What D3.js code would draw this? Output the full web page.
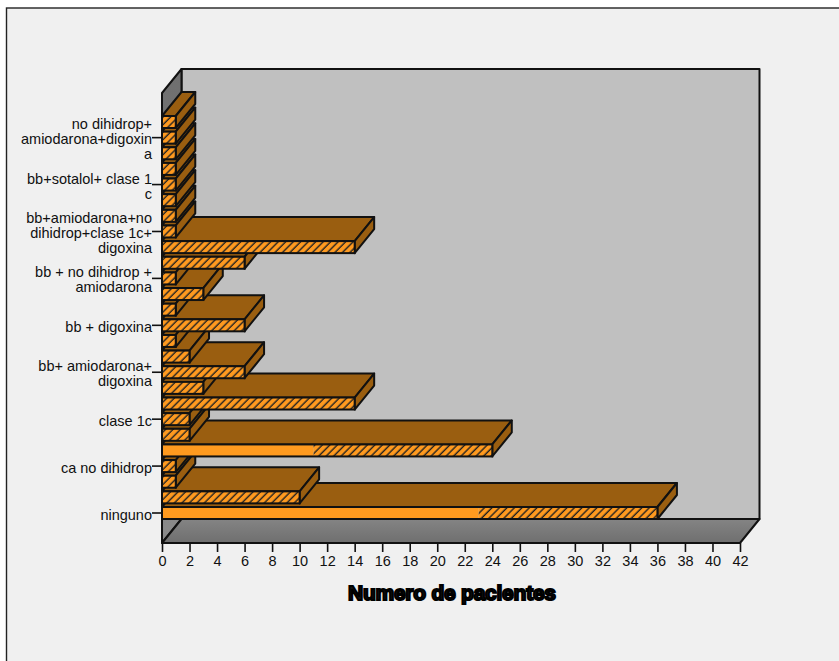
<!DOCTYPE html>
<html>
<head>
<meta charset="utf-8">
<script src="https://cdn.jsdelivr.net/npm/d3@7"></script>
<style>
html,body{margin:0;padding:0;background:#fff;overflow:hidden}
svg{display:block}
text{font-family:"Liberation Sans",Arial,sans-serif;fill:#111}
</style>
</head>
<body>
<svg id="chart" width="839" height="661"></svg>
<script>
// Categories run from the front of the chart (bottom) to the back (top).
const categoryLabels = [
  "ninguno", "", "", "ca no dihidrop", "", "", "clase 1c", "", "",
  "bb+ amiodarona+\ndigoxina", "", "", "bb + digoxina", "", "",
  "bb + no dihidrop +\namiodarona", "", "",
  "bb+amiodarona+no\ndihidrop+clase 1c+\ndigoxina", "", "",
  "bb+sotalol+ clase 1\nc", "", "",
  "no dihidrop+\namiodarona+digoxin\na", ""
];
const solidValues = [23,0,0,0,11,0,0,0,0,0,0,0,0,0,0,0,0,0,0,0,0,0,0,0,0,0];
const hatchedValues = [13,10,1,1,13,2,2,14,3,6,2,1,6,1,3,1,6,14,1,1,1,1,1,1,1,1];
const xTicks = d3.range(0, 43, 2);
const axisTitle = "Numero de pacientes";

const svg = d3.select("#chart");
const depth = {x: 19.5, y: -24};
const x = d3.scaleLinear().domain([0, 42]).range([162, 740]);
const y = d3.scaleBand().domain(d3.range(categoryLabels.length))
  .range([519, 116]).paddingInner(0.233).paddingOuter(0);
const floorY = 543, wallTop = 93;
const labelFont = '"Liberation Sans",Arial,sans-serif';

const colors = {page:"#f0f0f0", wall:"#c0c0c0", bar:"#ff9a1f", barDark:"#9a5e10", line:"#111"};

const defs = svg.append("defs");
const grad = (id, from, to, x2, y2) => {
  const g = defs.append("linearGradient").attr("id", id)
    .attr("x1", 0).attr("y1", 0).attr("x2", x2).attr("y2", y2);
  g.append("stop").attr("offset", 0).attr("stop-color", from);
  g.append("stop").attr("offset", 1).attr("stop-color", to);
};
grad("floorFill", "#848484", "#6f6f6f", 0, 1);
grad("sideFill", "#6f6f6f", "#8a8a8a", 0, 1);
const hatchStep = 5.3;
const hatch = defs.append("pattern").attr("id", "hatch")
  .attr("patternUnits", "userSpaceOnUse").attr("width", hatchStep).attr("height", hatchStep)
  .attr("patternTransform", "rotate(45)");
hatch.append("rect").attr("width", hatchStep).attr("height", hatchStep).attr("fill", colors.bar);
hatch.append("line").attr("x1", 2).attr("x2", 2).attr("y1", 0).attr("y2", hatchStep)
  .attr("stroke", "#222").attr("stroke-width", 1.4);

// Page panel with a frame along its top and left edges
svg.append("rect").attr("width", 839).attr("height", 661).attr("fill", "#fff");
svg.append("rect").attr("x", 6.5).attr("y", 8).attr("width", 840).attr("height", 670)
  .attr("fill", colors.page).attr("stroke", "#222").attr("stroke-width", 1.4);

const poly = (pts, fill, sw = 2) => svg.append("polygon")
  .attr("points", pts.map(p => p.join(",")).join(" "))
  .attr("fill", fill).attr("stroke", colors.line)
  .attr("stroke-width", sw).attr("stroke-linejoin", "round");

// Box: back wall, left wall, floor
const xMin = x(0), xMax = x(42);
const backBottom = floorY + depth.y, backTop = wallTop + depth.y;
poly([[xMin+depth.x,backTop],[xMax+depth.x,backTop],[xMax+depth.x,backBottom],[xMin+depth.x,backBottom]], colors.wall);
poly([[xMin,wallTop],[xMin+depth.x,backTop],[xMin+depth.x,backBottom],[xMin,floorY]], "url(#sideFill)");
poly([[xMin,floorY],[xMin+depth.x,backBottom],[xMax+depth.x,backBottom],[xMax,floorY]], "url(#floorFill)");

// Bars, painted from the front row to the back row
categoryLabels.forEach((_, i) => {
  const total = solidValues[i] + hatchedValues[i];
  const x0 = x(0), x1 = x(total), xs = x(solidValues[i]);
  const top = y(i), bot = top + y.bandwidth();
  poly([[x0,top],[x0+depth.x,top+depth.y],[x1+depth.x,top+depth.y],[x1,top]], colors.barDark);
  poly([[x1,top],[x1+depth.x,top+depth.y],[x1+depth.x,bot+depth.y],[x1,bot]], colors.barDark);
  svg.append("rect").attr("x", xs).attr("y", top).attr("width", x1 - xs).attr("height", bot - top)
    .attr("fill", "url(#hatch)");
  if (solidValues[i] > 0) {
    svg.append("rect").attr("x", x0).attr("y", top).attr("width", xs - x0).attr("height", bot - top)
      .attr("fill", colors.bar);
  }
  svg.append("rect").attr("x", x0).attr("y", top).attr("width", x1 - x0).attr("height", bot - top)
    .attr("fill", "none").attr("stroke", colors.line).attr("stroke-width", 2);
});

// Value axis along the front edge of the floor
const xAxis = svg.append("g").attr("transform", `translate(0,${floorY})`)
  .call(d3.axisBottom(x).tickValues(xTicks).tickSize(9).tickPadding(4).tickFormat(d3.format("d")));
xAxis.select(".domain").remove();
xAxis.selectAll("line").attr("stroke", colors.line).attr("stroke-width", 1.6);
xAxis.selectAll("text").attr("font-size", 14.5).style("font-family", labelFont);

// Category axis: only the named rows carry a tick
const named = d3.range(categoryLabels.length).filter(i => categoryLabels[i]);
const yAxis = svg.append("g").attr("transform", `translate(${xMin},0)`)
  .call(d3.axisLeft(y).tickValues(named).tickSize(10).tickPadding(0).tickFormat(() => ""));
yAxis.select(".domain").remove();
yAxis.selectAll("line").attr("stroke", colors.line).attr("stroke-width", 1.6);
yAxis.selectAll("text").each(function(i) {
  const lines = categoryLabels[i].split("\n");
  const t = d3.select(this).attr("font-size", 14.5).attr("text-anchor", "end")
    .style("font-family", labelFont).attr("dy", null);
  lines.forEach((s, k) => t.append("tspan").attr("x", -10)
    .attr("y", (k - (lines.length - 1) / 2) * 15 + 6.5).text(s));
});

// Heavy axis title
svg.append("text").attr("x", 452).attr("y", 600).attr("text-anchor", "middle")
  .attr("font-size", 21).attr("font-weight", 700)
  .style("font-family", '"Liberation Sans Narrow","Liberation Sans",sans-serif')
  .attr("stroke", "#000").attr("stroke-width", 2).attr("fill", "#000")
  .attr("stroke-linejoin", "miter")
  .attr("textLength", 208).attr("lengthAdjust", "spacing")
  .text(axisTitle);
</script>
</body>
</html>
